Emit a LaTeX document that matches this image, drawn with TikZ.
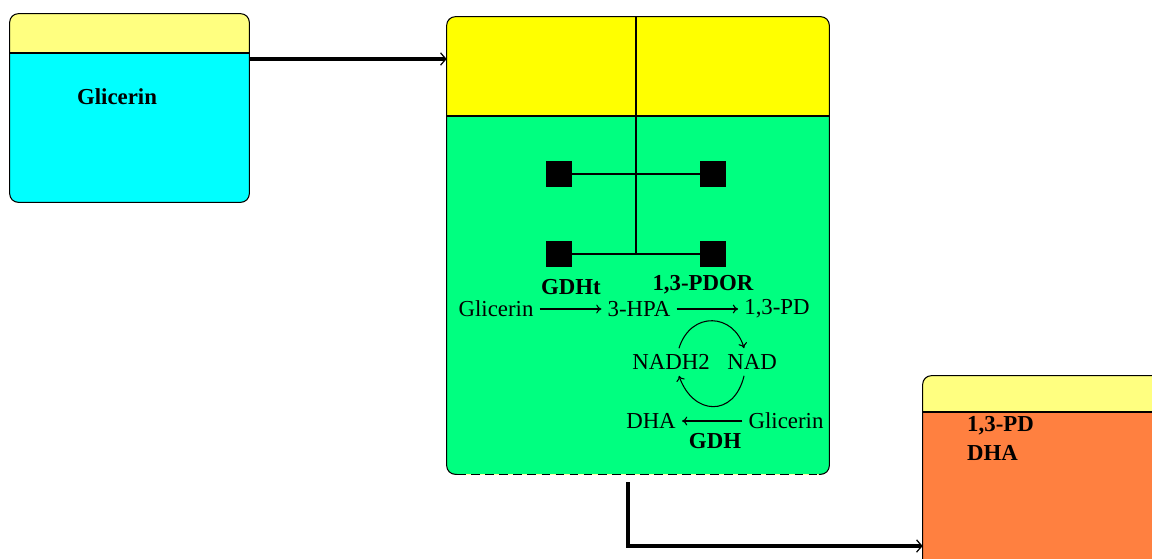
\documentclass[tikz,border=0pt]{standalone}
\usepackage{fontspec}
\setmainfont{Liberation Serif}
\usepackage{xcolor}
\usepackage{tikz}
\usetikzlibrary{positioning, arrows.meta, fit}

\definecolor{hdrpale}{HTML}{FFFF80}
\definecolor{hdrbright}{HTML}{FFFF00}
\definecolor{feedcyan}{HTML}{00FFFF}
\definecolor{cellgreen}{HTML}{00FF80}
\definecolor{prodorange}{HTML}{FF8040}

\begin{document}
\begin{tikzpicture}[x=0.02cm, y=-0.02cm,
      every node/.style={font=\fontsize{13}{15}\selectfont},
      box/.style={inner sep=0pt},
      rim/.style={line width=0.6pt},
      enz/.style={font=\fontsize{13}{15}\selectfont\bfseries},
      pad/.style={fill=black, inner sep=0pt, minimum size=14.8pt},
      flow/.style={line width=1.8pt, -{Straight Barb[length=3pt, width=7pt, line width=0.7pt]}},
      rxn/.style={line width=0.6pt, -{To[length=3pt, width=5pt]}}]

      \clip (0,0) rectangle (1152,558);

      % Feed tank
      \node[box, fit={(10,14) (249,202)}] (src) {};
      \coordinate (srchdr) at (10,53);
      \fill[hdrpale, rounded corners=5pt] (src.south west) rectangle (src.north east);
      \begin{scope}
        \clip[rounded corners=5pt] (src.south west) rectangle (src.north east);
        \fill[feedcyan] (src.west |- srchdr) rectangle (src.south east);
      \end{scope}
      \draw[rim, rounded corners=5pt] (src.south west) rectangle (src.north east);
      \draw[rim] (src.west |- srchdr) -- (src.east |- srchdr);
      \node[enz] (feedname) at (117,97) {Glicerin};

      % Reactor
      \node[box, fit={(447,17) (829,474)}] (mid) {};
      \coordinate (midhdr) at (447,116);
      \fill[hdrbright, rounded corners=5pt] (mid.south west) rectangle (mid.north east);
      \begin{scope}
        \clip[rounded corners=5pt] (mid.south west) rectangle (mid.north east);
        \fill[cellgreen] (mid.west |- midhdr) rectangle (mid.south east);
      \end{scope}
      \draw[rim, rounded corners=5pt] ([xshift=6pt]mid.south west) -- (mid.south west) -- (mid.north west)
        -- (mid.north east) -- (mid.south east) -- ([xshift=-6pt]mid.south east);
      \draw[rim, dash pattern=on 5pt off 3pt] ([xshift=6pt]mid.south west) -- ([xshift=-6pt]mid.south east);
      \draw[rim] (mid.west |- midhdr) -- (mid.east |- midhdr);

      % Product tank
      \node[box, fit={(923,376) (1190,590)}] (out) {};
      \coordinate (outhdr) at (923,412);
      \fill[hdrpale, rounded corners=5pt] (out.south west) rectangle (out.north east);
      \begin{scope}
        \clip[rounded corners=5pt] (out.south west) rectangle (out.north east);
        \fill[prodorange] (out.west |- outhdr) rectangle (out.south east);
      \end{scope}
      \draw[rim, rounded corners=5pt] (out.south west) rectangle (out.north east);
      \draw[rim] (out.west |- outhdr) -- (out.east |- outhdr);
      \node[enz, anchor=west] (outpd) at (961,426) {1,3-PD};
      \node[enz, anchor=west] (outdha) at (961,453) {DHA};

      % Enzyme pads
      \node[pad] (p1) at (559,174) {};
      \node[pad] (p2) at (713,174) {};
      \node[pad] (p3) at (559,254) {};
      \node[pad] (p4) at (713,254) {};
      \coordinate (hub) at (636,254);
      \draw[line width=0.6pt] (p1) -- (p2);
      \draw[line width=0.8pt] (p3) -- (p4);
      \draw[line width=0.8pt] (hub |- mid.north) -- (hub);

      \node[enz] (gdht) at (571,287) {GDHt};
      \node[enz] (pdor) at (703,285) {1,3-PDOR};

      % Reactions
      \node (gl1) at (496,309) {Glicerin};
      \node (hpa) at (639,309) {3-HPA};
      \node (pd) at (777,309) {1,3-PD};
      \node (nadh) at (671,362) {NADH2};
      \node (nad) at (752,362) {NAD};
      \node (dha) at (651,421) {DHA};
      \node (gl2) at (786,421) {Glicerin};
      \node[enz] (gdh) at (715,441) {GDH};

      \draw[rxn] (gl1) -- (hpa);
      \draw[rxn] (hpa) -- (pd);
      \draw[rxn] (gl2) -- (dha);
      \draw[rxn] (nadh.60) .. controls +(12,-38) and +(-10,-35) .. (nad.120);
      \draw[rxn] (nad.-120) .. controls +(-10,42) and +(14,40) .. (nadh.-60);

      % Streams
      \coordinate (feed) at (249,59);
      \draw[flow] (feed) -- (feed -| mid.west);
      \coordinate (drain) at (628,482);
      \coordinate (entry) at (923,546);
      \draw[flow] (drain) |- (entry -| out.west);
    \end{tikzpicture}
\end{document}
